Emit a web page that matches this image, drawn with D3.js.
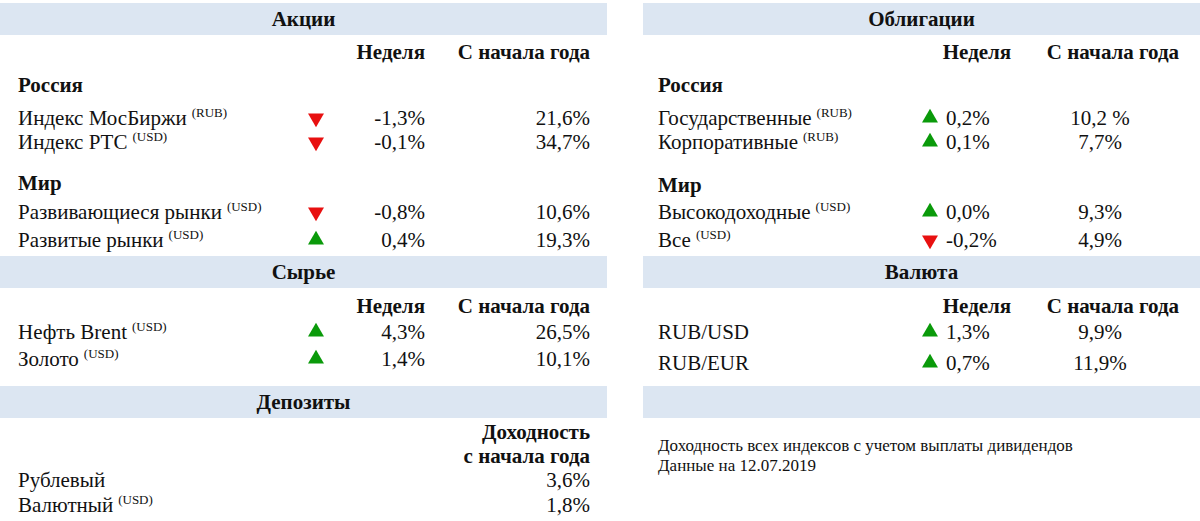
<!DOCTYPE html>
<html><head><meta charset="utf-8">
<script src="https://cdn.jsdelivr.net/npm/d3@7"></script>
<style>body{margin:0;background:#fff}text{font-family:"Liberation Serif","Times New Roman",serif;font-size:21px;fill:#111}</style>
</head><body><svg id="c" width="1200" height="521"></svg>
<script>
// data
const stocksRu = [["Индекс МосБиржи","RUB",-1.3,"21,6%"],["Индекс РТС","USD",-0.1,"34,7%"]];
const stocksWorld = [["Развивающиеся рынки","USD",-0.8,"10,6%"],["Развитые рынки","USD",0.4,"19,3%"]];
const commodities = [["Нефть Brent","USD",4.3,"26,5%"],["Золото","USD",1.4,"10,1%"]];
const deposits = [["Рублевый",null,"3,6%"],["Валютный","USD","1,8%"]];
const bondsRu = [["Государственные","RUB",0.2,"10,2 %"],["Корпоративные","RUB",0.1,"7,7%"]];
const bondsWorld = [["Высокодоходные","USD",0.0,"9,3%"],["Все","USD",-0.2,"4,9%"]];
const fx = [["RUB/USD",null,1.3,"9,9%"],["RUB/EUR",null,0.7,"11,9%"]];
const notes = ["Доходность всех индексов с учетом выплаты дивидендов","Данные на 12.07.2019"];

const svg = d3.select("#c");
const fmt = v => d3.format(".1f")(v).replace(".", ",").replace("−","-") + "%";

function band(x0, x1, y, title) {
  svg.append("rect").attr("x", x0).attr("y", y).attr("width", x1 - x0).attr("height", 32).attr("fill", "#dce6f2");
  if (title) svg.append("text").attr("x", (x0 + x1) / 2).attr("y", y + 23).attr("text-anchor", "middle").attr("font-weight", "bold").text(title);
}
function txt(x, y, s, anchor, bold) {
  return svg.append("text").attr("x", x).attr("y", y).attr("text-anchor", anchor || "start").attr("font-weight", bold ? "bold" : null).text(s);
}
function label(x, y, name, cur) {
  const t = txt(x, y, name);
  if (cur) t.append("tspan").attr("dx", 5).attr("dy", -8).style("font-size", "13px").text("(" + cur + ")");
}
function arrow(cx, y, v) {
  const up = v >= 0;
  const tri = d3.symbol().type(d3.symbolTriangle).size(110);
  svg.append("path").attr("d", tri).attr("fill", up ? "#0a9a0a" : "#e81010")
    .attr("transform", `translate(${cx},${y - 7}) rotate(${up ? 0 : 180})`);
}
function rows(data, y0, step, cols) {
  data.forEach((d, i) => {
    const y = y0 + i * step;
    label(cols.label, y, d[0], d[1]);
    arrow(cols.arrow, y, d[2]);
    txt(cols.week, y, fmt(d[2]), cols.weekAnchor);
    txt(cols.ytd, y, d[3], cols.ytdAnchor);
  });
}

// left panel
const L = {label: 18, arrow: 316, week: 425, weekAnchor: "end", ytd: 590, ytdAnchor: "end"};
band(0, 607, 3, "Акции");
txt(425, 59, "Неделя", "end", true); txt(590, 59, "С начала года", "end", true);
txt(18, 92, "Россия", "start", true);
rows(stocksRu, 125, 24, L);
txt(18, 190, "Мир", "start", true);
rows(stocksWorld, 219, 28, L);
band(0, 607, 256, "Сырье");
txt(425, 313, "Неделя", "end", true); txt(590, 313, "С начала года", "end", true);
rows(commodities, 339, 27, L);
band(0, 607, 386, "Депозиты");
txt(590, 439, "Доходность", "end", true); txt(590, 463, "с начала года", "end", true);
deposits.forEach((d, i) => { label(18, 487 + i * 25, d[0], d[1]); txt(590, 487 + i * 25, d[2], "end"); });

// right panel
const R = {label: 658, arrow: 930, week: 946, weekAnchor: "start", ytd: 1100, ytdAnchor: "middle"};
band(643, 1200, 3, "Облигации");
txt(977, 59, "Неделя", "middle", true); txt(1113, 59, "С начала года", "middle", true);
txt(658, 92, "Россия", "start", true);
rows(bondsRu, 125, 24, R);
txt(658, 192, "Мир", "start", true);
rows(bondsWorld, 219, 28, R);
band(643, 1200, 256, "Валюта");
txt(977, 313, "Неделя", "middle", true); txt(1113, 313, "С начала года", "middle", true);
rows(fx, 339, 31, R);
band(643, 1200, 386, null);
notes.forEach((n, i) => txt(658, 451 + i * 20, n).style("font-size", "17px"));
</script></body></html>
